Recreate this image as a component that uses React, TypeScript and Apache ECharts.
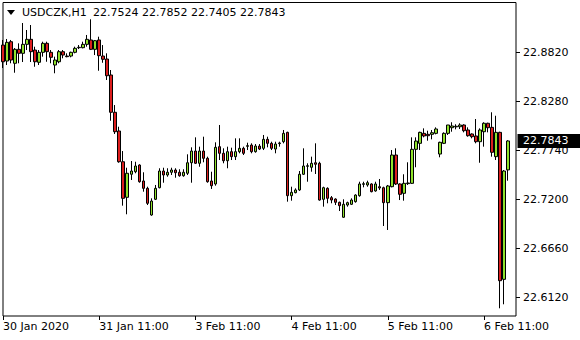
import React, { useEffect, useRef } from 'react';
import * as echarts from 'echarts';

const symbolTitle = 'USDCZK,H1';

const opens = [
  22.8900, 22.8724, 22.8937, 22.8699, 22.8853, 22.8809, 22.8908, 22.8963, 22.8845, 22.8710,
  22.8820, 22.8919, 22.8820, 22.8680, 22.8716, 22.8827, 22.8779, 22.8779, 22.8820, 22.8871,
  22.8871, 22.8908, 22.8956, 22.8853, 22.8956, 22.8779, 22.8746, 22.8570, 22.8159, 22.7953,
  22.7614, 22.7222, 22.7476, 22.7504, 22.7578, 22.7402, 22.7321, 22.7027, 22.7200, 22.7328,
  22.7512, 22.7468, 22.7498, 22.7523, 22.7498, 22.7460, 22.7487, 22.7603, 22.7732, 22.7597,
  22.7732, 22.7652, 22.7402, 22.7369, 22.7780, 22.7707, 22.7625, 22.7725, 22.7670, 22.7725,
  22.7762, 22.7784, 22.7798, 22.7725, 22.7787, 22.7762, 22.7861, 22.7817, 22.7754, 22.7814,
  22.7835, 22.7938, 22.7240, 22.7273, 22.7303, 22.7476, 22.7564, 22.7553, 22.7603, 22.7597,
  22.7200, 22.7321, 22.7218, 22.7203, 22.7167, 22.7002, 22.7137, 22.7145, 22.7174, 22.7240,
  22.7365, 22.7358, 22.7369, 22.7292, 22.7339, 22.7328, 22.7163, 22.7339, 22.7688, 22.7369,
  22.7266, 22.7373, 22.7376, 22.7751, 22.7817, 22.7927, 22.7916, 22.7916, 22.7927, 22.7699,
  22.7817, 22.7927, 22.7989, 22.7998, 22.8000, 22.8019, 22.7964, 22.7920, 22.7898, 22.7835,
  22.7945, 22.8038, 22.7993, 22.7670, 22.7938, 22.6318, 22.7524,
];

const closes = [
  22.8716, 22.8930, 22.8735, 22.8853, 22.8809, 22.8908, 22.8963, 22.8827, 22.8716, 22.8820,
  22.8919, 22.8827, 22.8765, 22.8735, 22.8827, 22.8790, 22.8772, 22.8820, 22.8864, 22.8875,
  22.8908, 22.8963, 22.8853, 22.8948, 22.8783, 22.8743, 22.8562, 22.8159, 22.7945, 22.7614,
  22.7211, 22.7487, 22.7512, 22.7567, 22.7394, 22.7321, 22.7156, 22.7181, 22.7321, 22.7512,
  22.7468, 22.7498, 22.7523, 22.7493, 22.7460, 22.7498, 22.7603, 22.7732, 22.7597, 22.7732,
  22.7652, 22.7394, 22.7350, 22.7773, 22.7707, 22.7625, 22.7725, 22.7670, 22.7725, 22.7762,
  22.7707, 22.7791, 22.7725, 22.7787, 22.7754, 22.7861, 22.7817, 22.7762, 22.7809, 22.7821,
  22.7927, 22.7240, 22.7277, 22.7303, 22.7476, 22.7567, 22.7570, 22.7597, 22.7586, 22.7192,
  22.7328, 22.7211, 22.7192, 22.7167, 22.7130, 22.7145, 22.7163, 22.7192, 22.7247, 22.7369,
  22.7372, 22.7383, 22.7284, 22.7369, 22.7325, 22.7163, 22.7347, 22.7688, 22.7369, 22.7255,
  22.7376, 22.7380, 22.7751, 22.7842, 22.7938, 22.7898, 22.7901, 22.7934, 22.7975, 22.7828,
  22.7927, 22.8019, 22.8008, 22.8005, 22.8019, 22.7956, 22.7901, 22.7890, 22.7835, 22.7964,
  22.8038, 22.7989, 22.7718, 22.7938, 22.6303, 22.7512, 22.7843,
];

const highs = [
  22.8956, 22.8967, 22.8956, 22.8867, 22.8919, 22.9143, 22.9066, 22.9121, 22.8882, 22.8845,
  22.8937, 22.8937, 22.8845, 22.8772, 22.8845, 22.8845, 22.8809, 22.8827, 22.8882, 22.8900,
  22.8937, 22.9011, 22.9184, 22.8956, 22.8992, 22.8900, 22.8809, 22.8625, 22.8239, 22.8000,
  22.7732, 22.7548, 22.7622, 22.7614, 22.7586, 22.7498, 22.7339, 22.7211, 22.7358, 22.7542,
  22.7548, 22.7542, 22.7548, 22.7542, 22.7531, 22.7531, 22.7696, 22.7773, 22.7883, 22.7780,
  22.7890, 22.7670, 22.7504, 22.7828, 22.8019, 22.7762, 22.7780, 22.7769, 22.7872, 22.7872,
  22.7780, 22.7824, 22.7817, 22.7809, 22.7809, 22.7909, 22.7890, 22.7835, 22.7835, 22.7835,
  22.7964, 22.7945, 22.7339, 22.7321, 22.7512, 22.7762, 22.7597, 22.7670, 22.7817, 22.7614,
  22.7339, 22.7332, 22.7236, 22.7211, 22.7174, 22.7200, 22.7174, 22.7211, 22.7255, 22.7394,
  22.7394, 22.7405, 22.7376, 22.7394, 22.7424, 22.7339, 22.7358, 22.7743, 22.7762, 22.7376,
  22.7476, 22.7608, 22.7883, 22.7883, 22.7945, 22.7982, 22.7956, 22.7964, 22.7993, 22.7835,
  22.7938, 22.8019, 22.8049, 22.8027, 22.8038, 22.8027, 22.7993, 22.7927, 22.8085, 22.7982,
  22.8049, 22.8044, 22.8159, 22.8121, 22.7945, 22.7523, 22.7852,
];

const lows = [
  22.8647, 22.8680, 22.8699, 22.8595, 22.8699, 22.8713, 22.8845, 22.8713, 22.8661, 22.8680,
  22.8772, 22.8716, 22.8699, 22.8589, 22.8699, 22.8754, 22.8765, 22.8765, 22.8809, 22.8856,
  22.8864, 22.8882, 22.8845, 22.8790, 22.8617, 22.8705, 22.8515, 22.8066, 22.7920, 22.7603,
  22.7130, 22.7035, 22.7413, 22.7487, 22.7383, 22.7284, 22.7137, 22.7019, 22.7192, 22.7321,
  22.7383, 22.7449, 22.7468, 22.7438, 22.7449, 22.7449, 22.7468, 22.7383, 22.7589, 22.7559,
  22.7608, 22.7383, 22.7314, 22.7350, 22.7633, 22.7597, 22.7542, 22.7633, 22.7633, 22.7707,
  22.7688, 22.7743, 22.7707, 22.7714, 22.7743, 22.7743, 22.7773, 22.7743, 22.7707, 22.7780,
  22.7817, 22.7174, 22.7185, 22.7266, 22.7292, 22.7468, 22.7394, 22.7504, 22.7479, 22.7185,
  22.7119, 22.7156, 22.7156, 22.7137, 22.7071, 22.6997, 22.7119, 22.7137, 22.7163, 22.7229,
  22.7332, 22.7339, 22.7277, 22.7284, 22.7303, 22.6906, 22.6862, 22.7332, 22.7358, 22.7192,
  22.7185, 22.7358, 22.7369, 22.7553, 22.7743, 22.7883, 22.7846, 22.7861, 22.7916, 22.7663,
  22.7809, 22.7909, 22.7945, 22.7971, 22.7975, 22.7938, 22.7890, 22.7872, 22.7817, 22.7603,
  22.7780, 22.7938, 22.7670, 22.7633, 22.5999, 22.6043, 22.7405,
];

const yTickValues = [22.612, 22.666, 22.72, 22.774, 22.828, 22.882];
const xTickIndices = [0, 24, 48, 72, 96, 120];
const xTickLabels = ['30 Jan 2020', '31 Jan 11:00', '3 Feb 11:00', '4 Feb 11:00', '5 Feb 11:00', '6 Feb 11:00'];
const dayNames = ['31 Jan', '3 Feb', '4 Feb', '5 Feb', '6 Feb', '7 Feb'];

const yMin = 22.5914;
const yMax = 22.9369;
const padBars = 2;

const FONT = 'DejaVu Sans';
const BULL = '#8fe22c';
const BEAR = '#dc1e1e';

function two(n: number) {
  return n < 10 ? '0' + n : String(n);
}
function barTime(i: number) {
  if (i < 13) return `30 Jan ${two(11 + i)}:00`;
  const j = i - 13;
  return `${dayNames[Math.floor(j / 24)]} ${two(j % 24)}:00`;
}

export default function App() {
  const ref = useRef<HTMLDivElement>(null);
  useEffect(() => {
    const chart = echarts.init(ref.current!, undefined, { renderer: 'svg' });
    const n = opens.length;
    const categories = Array.from({ length: n + padBars }, (_, i) => barTime(i));
    const candles = opens.map((o, i) => [o, closes[i], lows[i], highs[i]]);
    const gridLeft = 2.5;
    const gridRight = 64;
    chart.setOption({
      animation: false,
      backgroundColor: '#fff',
      grid: {
        left: gridLeft,
        right: gridRight,
        top: 2.5,
        bottom: 24,
        show: true,
        borderColor: '#000',
        borderWidth: 1,
        backgroundColor: '#fff',
        containLabel: false,
      },
      xAxis: {
        type: 'category',
        data: categories,
        boundaryGap: false,
        axisLine: { show: false },
        axisTick: {
          show: true,
          length: 4,
          interval: (idx: number) => xTickIndices.includes(idx),
          lineStyle: { color: '#000', width: 1 },
        },
        axisLabel: {
          show: true,
          interval: (idx: number) => xTickIndices.includes(idx),
          formatter: (_v: string, idx: number) => {
            const k = xTickIndices.indexOf(idx);
            return k >= 0 ? xTickLabels[k] : '';
          },
          align: 'left',
          margin: 5,
          color: '#000',
          fontFamily: FONT,
          fontSize: 11,
        },
        splitLine: { show: false },
      },
      yAxis: {
        type: 'value',
        position: 'right',
        min: yMin,
        max: yMax,
        scale: true,
        axisLine: { show: false },
        axisTick: {
          show: true,
          length: 4,
          customValues: yTickValues,
          lineStyle: { color: '#000', width: 1 },
        },
        axisLabel: {
          show: true,
          customValues: yTickValues,
          formatter: (v: number) => v.toFixed(4),
          margin: 7,
          color: '#000',
          fontFamily: FONT,
          fontSize: 11,
        },
        splitLine: { show: false },
      },
      series: [
        {
          type: 'candlestick',
          data: candles,
          barWidth: 3,
          clip: true,
          itemStyle: {
            color: BULL,
            color0: BEAR,
            borderColor: '#000',
            borderColor0: '#000',
            borderColorDoji: '#000',
            borderWidth: 1,
          },
        },
      ],
    });

    const lastClose = closes[n - 1];
    const yc = chart.convertToPixel({ yAxisIndex: 0 }, lastClose) as number;
    const boxX = 580 - gridRight + 1.5;
    chart.setOption({
      graphic: [
        {
          type: 'polygon',
          shape: { points: [[7, 10], [15, 10], [11, 15]] },
          style: { fill: '#000' },
          z: 100,
        },
        {
          type: 'text',
          x: 22,
          y: 12.5,
          style: {
            text: symbolTitle,
            fill: '#000',
            font: `11px "${FONT}"`,
            verticalAlign: 'middle',
          },
          z: 100,
        },
        {
          type: 'text',
          x: 93,
          y: 12.5,
          style: {
            text: `${opens[n - 1].toFixed(4)} ${highs[n - 1].toFixed(4)} ${lows[n - 1].toFixed(4)} ${closes[n - 1].toFixed(4)}`,
            fill: '#000',
            font: `11px "${FONT}"`,
            verticalAlign: 'middle',
          },
          z: 100,
        },
        {
          type: 'rect',
          shape: { x: boxX, y: Math.round(yc) - 7, width: 580 - boxX, height: 14 },
          style: { fill: '#000' },
          z: 100,
        },
        {
          type: 'text',
          x: 523,
          y: yc,
          style: {
            text: lastClose.toFixed(4),
            fill: '#fff',
            font: `11px "${FONT}"`,
            verticalAlign: 'middle',
          },
          z: 101,
        },
      ],
    });
    return () => chart.dispose();
  }, []);
  return <div ref={ref} style={{ position: 'absolute', left: 0, top: 0, width: 580, height: 340 }} />;
}
